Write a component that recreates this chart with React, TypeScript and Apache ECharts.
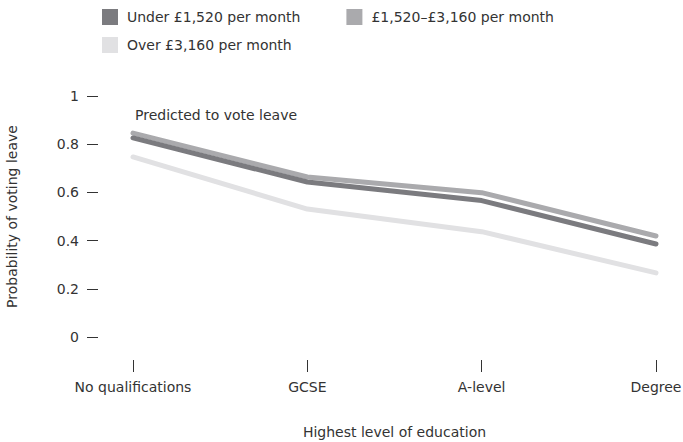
import React, { useEffect, useRef } from "react";
import * as echarts from "echarts";

const categories = ["No qualifications", "GCSE", "A-level", "Degree"];
const seriesNames = ["Under £1,520 per month", "£1,520–£3,160 per month", "Over £3,160 per month"];
const under1520 = [0.826, 0.643, 0.566, 0.386];
const mid1520to3160 = [0.846, 0.664, 0.599, 0.419];
const over3160 = [0.747, 0.531, 0.437, 0.266];
const colors = ["#7b7b7f", "#aaaaad", "#e1e1e3"];
const yTicks = [0, 0.2, 0.4, 0.6, 0.8, 1];

const FONT = "'DejaVu Sans', sans-serif";
const TXT = "#333333";
const FS = 14;

export default function App() {
  const ref = useRef<HTMLDivElement>(null);
  useEffect(() => {
    if (!ref.current) return;
    const chart = echarts.init(ref.current, undefined, { renderer: "svg" });
    const values = [under1520, mid1520to3160, over3160];
    const legendText = { color: TXT, fontSize: FS, fontFamily: FONT, padding: [0, 0, 0, 4] };
    chart.setOption({
      animation: false,
      textStyle: { fontFamily: FONT },
      grid: { left: 133, right: 27, top: 96, bottom: 105, outerBoundsMode: "none", containLabel: false },
      legend: [
        {
          data: [seriesNames[0], seriesNames[1]],
          left: 97,
          top: 4,
          itemWidth: 16,
          itemHeight: 16,
          itemGap: 46,
          icon: "rect",
          textStyle: legendText,
        },
        {
          data: [seriesNames[2]],
          left: 97,
          top: 32,
          itemWidth: 16,
          itemHeight: 16,
          icon: "rect",
          textStyle: legendText,
        },
      ],
      xAxis: {
        type: "category",
        data: categories,
        boundaryGap: false,
        offset: 23,
        name: "Highest level of education",
        nameLocation: "middle",
        nameGap: 65,
        nameTextStyle: { color: TXT, fontSize: FS, fontFamily: FONT },
        axisLine: { show: false, onZero: false },
        axisTick: { show: true, length: 12, alignWithLabel: true, lineStyle: { color: "#333", width: 1 } },
        axisLabel: { color: TXT, fontSize: FS, margin: 20, fontFamily: FONT },
        splitLine: { show: false },
      },
      yAxis: {
        type: "value",
        min: 0,
        max: 1,
        interval: 0.2,
        offset: 35,
        name: "Probability of voting leave",
        nameLocation: "middle",
        nameGap: 79,
        nameTextStyle: { color: TXT, fontSize: FS, fontFamily: FONT },
        axisLine: { show: false },
        axisTick: { show: true, length: 11, lineStyle: { color: "#333", width: 1 } },
        axisLabel: {
          color: TXT,
          fontSize: FS,
          margin: 19,
          fontFamily: FONT,
          formatter: (v: number) => {
            const t = yTicks.find((y) => Math.abs(y - v) < 1e-9);
            return String(t !== undefined ? t : v);
          },
        },
        splitLine: { show: false },
      },
      graphic: [
        {
          type: "text",
          left: 135,
          top: 108,
          style: { text: "Predicted to vote leave", fill: TXT, font: `${FS}px ${FONT}` },
        },
      ],
      series: values.map((d, i) => ({
        name: seriesNames[i],
        type: "line",
        data: d,
        symbol: "none",
        color: colors[i],
        lineStyle: { width: 5, color: colors[i], cap: "round", join: "round" },
        z: 3 - i,
      })),
    });
    return () => chart.dispose();
  }, []);
  return <div ref={ref} style={{ width: 683, height: 442, position: "absolute", left: 0, top: 0 }} />;
}
